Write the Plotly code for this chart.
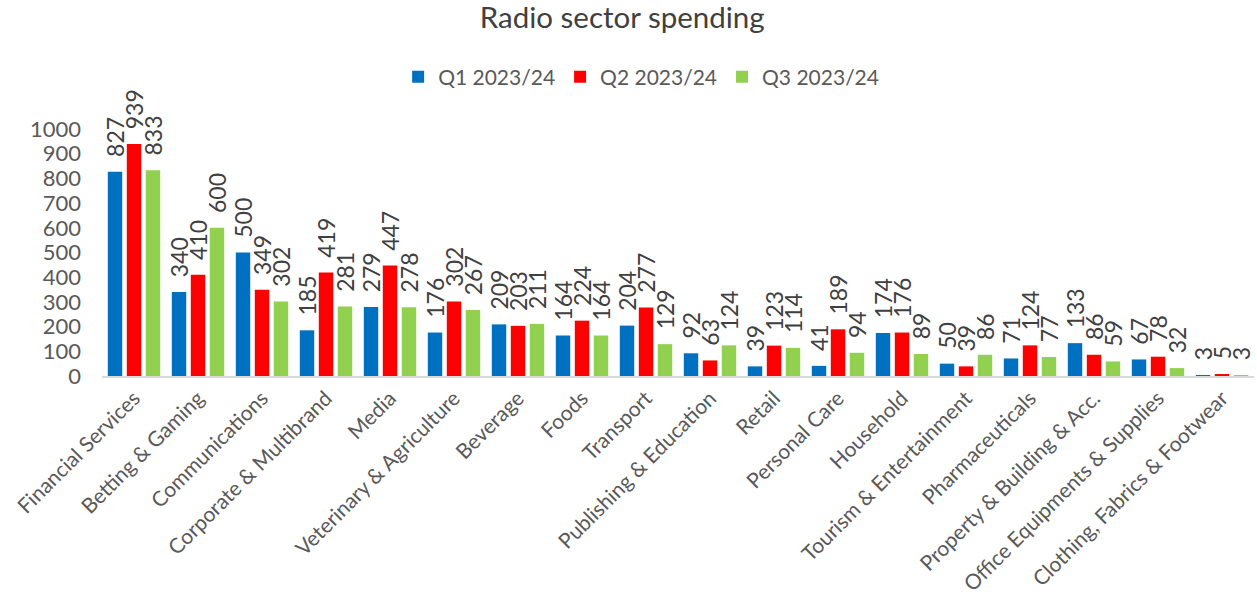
import plotly.graph_objects as go

categories = ["Financial Services", "Betting & Gaming", "Communications", "Corporate & Multibrand",
              "Media", "Veterinary & Agriculture", "Beverage", "Foods", "Transport",
              "Publishing & Education", "Retail", "Personal Care", "Household",
              "Tourism & Entertainment", "Pharmaceuticals", "Property & Building & Acc.",
              "Office Equipments & Supplies", "Clothing, Fabrics & Footwear"]
q1 = [827, 340, 500, 185, 279, 176, 209, 164, 204, 92, 39, 41, 174, 50, 71, 133, 67, 3]
q2 = [939, 410, 349, 419, 447, 302, 203, 224, 277, 63, 123, 189, 176, 39, 124, 86, 78, 5]
q3 = [833, 600, 302, 281, 278, 267, 211, 164, 129, 124, 114, 94, 89, 86, 77, 59, 32, 3]
series_names = ["Q1 2023/24", "Q2 2023/24", "Q3 2023/24"]
colors = ["#0070C0", "#FF0000", "#92D050"]

FONT = "Lato"
PAD = "\u00a0\u00a0"
fig = go.Figure()
for name, vals, col in zip(series_names, [q1, q2, q3], colors):
    fig.add_trace(go.Bar(
        x=categories, y=vals, name=name, marker_color=col,
        marker_line_width=0,
        text=[PAD + str(v) for v in vals], textposition="outside", textangle=-90,
        constraintext="none", cliponaxis=False,
        textfont=dict(family=FONT, size=23, color="#404040"),
        hovertemplate="%{x}<br>%{y}<extra>" + name + "</extra>",
    ))

fig.update_layout(
    width=1257, height=610,
    margin=dict(l=102, r=3, t=129, b=234),
    paper_bgcolor="white", plot_bgcolor="white",
    barmode="group", bargap=0.11, bargroupgap=0.24,
    title=dict(text="Radio sector spending", x=0.495, xanchor="center",
               y=1 - 18 / 610, yanchor="middle",
               font=dict(family=FONT, size=29.5, color="#404040")),
    legend=dict(orientation="h", x=0.468, xanchor="center", y=1.21, yanchor="middle",
                font=dict(family=FONT, size=21, color="#595959"),
                itemsizing="constant", traceorder="normal", itemwidth=30),
    showlegend=True,
    font=dict(family=FONT),
)
fig.update_xaxes(showline=True, linecolor="#D9D9D9", linewidth=1.5, showgrid=False,
                 tickangle=-45, ticks="", tickfont=dict(family=FONT, size=21, color="#595959"))
fig.update_yaxes(range=[0, 1000], dtick=100, showgrid=False, zeroline=False, showline=False,
                 ticks="", ticklabelstandoff=20,
                 tickfont=dict(family=FONT, size=22, color="#595959"))

fig.write_html("out.html")
